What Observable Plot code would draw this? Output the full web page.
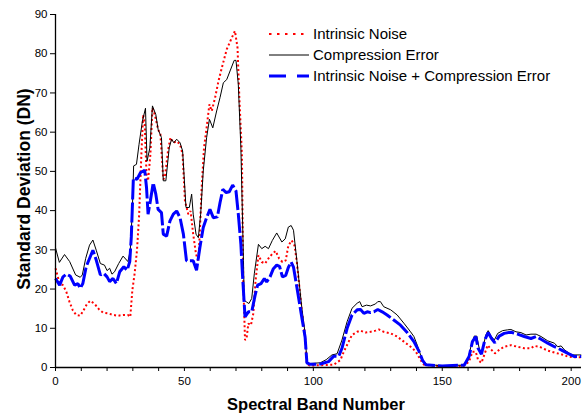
<!DOCTYPE html>
<html>
<head>
<meta charset="utf-8">
<script src="https://cdn.jsdelivr.net/npm/d3@7"></script>
<script src="https://cdn.jsdelivr.net/npm/@observablehq/plot@0.6"></script>
<style>
  html, body { margin: 0; padding: 0; background: #fff; }
  #chart { position: relative; width: 586px; height: 417px; }
  svg { font-family: "Liberation Sans", Arial, sans-serif; }
</style>
</head>
<body>
<div id="chart"></div>
<script>
// ---- data: [spectral band, standard deviation (DN)] ----
const intrinsicNoise = [[0,25.3],[1.6,21.4],[2.9,21],[4.2,19.3],[5.4,16.8],[6.7,14.6],[8,13.4],[9.6,13.2],[10.9,14.6],[12.2,16.2],[13.5,17],[15.2,16.2],[16.9,14.8],[18.4,14],[20.4,13.8],[22.3,13.4],[24.3,13.2],[26.2,13.4],[28.1,13.4],[29,12.9],[29.8,19.7],[30.7,24],[31.6,29.9],[32.4,38.4],[33.3,54.3],[34,64.5],[34.6,62],[35.3,49.3],[35.9,47.6],[36.8,54.3],[37.6,66.2],[38.5,64.5],[39.8,60.7],[40.7,59.4],[41.8,48],[42.4,48.4],[43.7,55.6],[44.6,58.6],[45.7,57.3],[47,57.7],[48.3,56.9],[49.3,54.3],[50.2,42.5],[51.5,39.1],[52.4,39.9],[53.4,34],[54.5,28.9],[55.4,27.2],[56,34.8],[56.7,45.9],[57.6,56],[58.6,61.1],[59.7,67.1],[60.6,65.4],[61.9,68.8],[63.2,73],[64.5,76.4],[66.4,81.1],[68.4,84.1],[69.6,85.8],[70.6,81.5],[71.3,68.8],[72.3,54.3],[72.8,22.2],[73.5,7],[74.1,7.4],[74.8,11.2],[75.8,10.8],[76.7,13.7],[77.6,22.2],[78.7,28.6],[80,26.9],[81.3,26.5],[82.6,27.8],[84.1,29],[85.4,29.7],[86.7,27.8],[88,26.9],[89.3,27.3],[90.3,31.1],[91.6,32.4],[92.7,31.1],[93.6,26.9],[95.5,14.6],[96.8,7.8],[97.5,1],[98.5,0.5],[107.9,0.7],[110.5,1.9],[111.8,4],[113.7,6.6],[115,8.3],[117,9.1],[118.3,9.4],[120.2,8.9],[122.2,9.1],[124.1,9.4],[125.4,9.7],[127.3,9.1],[130,8.7],[132.5,7.9],[135.1,6.6],[137.7,5.3],[139.7,4.1],[141.6,1.9],[142.9,0.7],[150,0.3],[158,0.3],[160.4,1.5],[161.7,4],[163,4],[163.9,1.9],[165.2,1.2],[166.5,3.6],[167.6,5.7],[169.1,4.5],[170.4,3.6],[172.1,4.5],[174,5.3],[176.6,5.7],[179.2,5.3],[181.8,4.9],[184.4,4.9],[185.7,5.5],[187.7,5.3],[190.9,4.3],[193.5,3.8],[196.1,3.4],[198.7,2.8],[201.3,2.6],[203.9,2.6]];

const compressionError = [[0,30.5],[1.5,26.8],[3.5,28.8],[5.5,27],[7.8,23.6],[9.6,23],[10.4,23.6],[11.7,27.8],[13.2,31.2],[14.5,32.5],[15.8,29.9],[17.4,26.5],[19,26.1],[20,24.7],[21,25.3],[21.9,23.8],[22.9,24.4],[24.5,26.5],[26.2,28.4],[28.1,27],[29,29.9],[29.8,40.1],[30.3,51.4],[31.4,51.8],[32.4,56.9],[33.7,62.8],[34.9,66.1],[35.5,52.6],[36.6,56],[37.6,66.7],[38.9,64.5],[39.8,60.7],[41.1,58.6],[41.8,47.6],[42.8,47.6],[44.1,56],[45,58.2],[45.9,57.3],[47,58.2],[48.3,57.3],[49.3,55.2],[50.6,40.8],[51.9,40.8],[52.8,44.2],[53.4,39.1],[54.5,34],[55.4,33.1],[56.3,39.1],[57.3,50.1],[58.6,58.6],[59.7,63.3],[61,61.1],[62.5,65.4],[63.8,68.8],[65.1,72.6],[66.4,73.4],[67.7,75.6],[69.3,78.3],[70,78.3],[70.9,72.2],[71.9,56],[72.9,27.2],[73.2,17.1],[74.1,16.7],[75,16.3],[76.1,17.6],[77.1,23.9],[78.7,31.4],[80,30.3],[81.3,30.9],[82.6,30.3],[84.1,32.4],[85.8,34.3],[87.8,32],[89.1,32.8],[90.3,35.8],[91.4,36.2],[92.3,35],[93.6,27.3],[95.5,15.4],[96.8,8.7],[97.5,1.4],[98.4,1],[102.7,1.2],[105,2],[107.2,3.2],[109.2,3.5],[111.1,7],[113.1,11.7],[115,15.1],[117,16.4],[118,16.8],[118.9,15.5],[120.6,15.9],[122.2,15.7],[124.1,16.2],[125,16.8],[126,16.8],[127.3,15.5],[130,14.7],[132.5,13.4],[135.1,11.3],[137.7,9.1],[139,7.9],[140.3,5.7],[141.6,3.2],[142.9,1.5],[144.2,0.7],[150,0.5],[157.8,0.6],[159.8,1.5],[161.1,5.3],[162.4,8],[163.4,8],[164.7,3.6],[165.6,4.5],[166.9,8.3],[167.8,9.4],[168.9,8],[170.2,7],[171.5,8.7],[173.4,9.4],[175.3,9.6],[176.6,9.7],[178.6,9.1],[180.5,8.9],[182.5,8.3],[184.4,8.5],[186.4,8.5],[188.3,7.9],[190.9,6.8],[193.5,6.2],[194.8,5.3],[196.1,5.5],[197.4,4.5],[199.3,3.6],[200.6,3.2],[203.9,3.2]];

const combinedError = [[0,22.7],[1.6,21],[2.9,23.1],[4.2,23.8],[5.7,23.3],[7.4,21],[8.7,21.4],[9.6,20.2],[10.6,21.4],[11.9,25.7],[13.2,27.8],[14.5,29.9],[15.8,27.4],[17.4,23.6],[18.7,24],[20,23.1],[21,21.9],[22.3,22.7],[23.6,21.4],[24.9,24.4],[26.5,25.7],[27.8,24.8],[28.8,27],[29.4,33.3],[30.2,48.3],[31.6,48],[33,49.7],[34.6,50.3],[35.3,45.9],[35.9,39.1],[36.8,42.5],[37.9,47.1],[38.9,44.2],[39.8,40.3],[41.1,39.5],[41.8,34],[43.1,33.5],[44.4,37.4],[45.7,39.1],[47,39.9],[48.3,38.2],[49.6,34],[50.8,27.2],[53.4,27.2],[54.7,24.8],[56,30.6],[57.3,35.7],[58.6,38.2],[59.9,40.3],[61.2,38.2],[62.8,38.4],[63.8,42],[64.9,45.4],[66.2,44.6],[67.4,44.8],[68.7,46.5],[70,45],[70.9,39.1],[71.9,31.4],[72.5,23.9],[73.5,12.9],[74.8,14.2],[76.1,14.2],[77.4,18.4],[78.4,21],[79.7,21.4],[81,22.7],[81.9,21.8],[83.2,23.1],[84.5,25.2],[85.8,26.1],[86.9,25.8],[88,23.1],[89.3,23.5],[90.3,25.5],[91.4,26.9],[92.3,25.6],[93.6,20.5],[95.5,12.9],[96.8,7.8],[97.5,1.2],[98.8,0.8],[102.7,0.9],[105.9,1.5],[107.9,2.9],[109.8,2.8],[111.1,4.9],[113.1,10],[115,13.4],[117,14.7],[118.3,14.8],[119.6,13.8],[120.9,14.2],[122.2,14],[123.5,14.2],[125,14.8],[126.7,14.2],[128.6,13.4],[131.2,12.1],[133.8,10.8],[136.4,8.9],[139,6.6],[141,4.1],[142.3,1.9],[143.6,0.7],[150,0.4],[158.5,0.6],[160.4,2.8],[161.7,6.6],[163,7.9],[163.9,4.9],[165.2,3.4],[166.5,7],[167.8,8.9],[169.1,7.4],[170.4,6.3],[172.1,8],[174,8.7],[176.6,9],[179.2,8.5],[181.8,7.9],[184.4,7.4],[186.4,7.9],[188.3,7.2],[190.9,6.2],[193.5,5.3],[196.1,4.5],[198.7,3.6],[201.3,2.8],[203.9,2.8]];

const seriesNames = ["Intrinsic Noise", "Compression Error", "Intrinsic Noise + Compression Error"];
const xTicks = d3.range(0, 201, 10);
const xTickLabels = [0, 50, 100, 150, 200];
const yTicks = d3.range(0, 91, 10);
const xTitle = "Spectral Band Number";
const yTitle = "Standard Deviation (DN)";

// ---- chart ----
const styles = [
  {stroke: "#ff0000", strokeWidth: 2, strokeDasharray: "2,2.5"},
  {stroke: "#000000", strokeWidth: 1, strokeDasharray: null},
  {stroke: "#0000ff", strokeWidth: 3, strokeDasharray: "20,3"}
];
const seriesData = [intrinsicNoise, compressionError, combinedError];

const chart = Plot.plot({
  width: 586,
  height: 417,
  marginTop: 14,
  marginBottom: 50,
  marginLeft: 55,
  marginRight: 5,
  style: {fontFamily: "'Liberation Sans', Arial, sans-serif", fontSize: "11.5px", color: "#000", background: "#fff"},
  x: {domain: [0, 204]},
  y: {domain: [0, 90]},
  marks: [
    Plot.axisX({ticks: xTicks, tickSize: 4, tickPadding: 5, stroke: "#000", strokeOpacity: 1,
      tickFormat: d => xTickLabels.includes(d) ? String(d) : "", label: null}),
    Plot.axisY({ticks: yTicks, tickSize: 5, tickPadding: 3, stroke: "#000", strokeOpacity: 1, label: null}),
    ...seriesData.map((data, i) => Plot.line(data, {
      x: d => d[0], y: d => d[1],
      stroke: styles[i].stroke, strokeWidth: styles[i].strokeWidth,
      strokeDasharray: styles[i].strokeDasharray,
      strokeLinecap: "butt", strokeLinejoin: "miter"
    })),
    Plot.ruleX([0], {stroke: "#000", strokeWidth: 1.3}),
    Plot.ruleY([0], {stroke: "#000", strokeWidth: 1.3})
  ]
});
document.getElementById("chart").appendChild(chart);

// ---- axis titles and legend ----
const svg = d3.select(chart);
svg.append("text")
  .attr("x", 316).attr("y", 410)
  .attr("text-anchor", "middle")
  .attr("font-size", 16.5).attr("font-weight", "bold").attr("fill", "#000")
  .text(xTitle);
svg.append("text")
  .attr("transform", "translate(30,189) rotate(-90)")
  .attr("text-anchor", "middle")
  .attr("font-size", 17.5).attr("font-weight", "bold").attr("fill", "#000")
  .text(yTitle);

const legendRows = [34, 55, 76];
const legendDash = ["2.5,5.5", null, "17,11"];
const lg = svg.append("g").attr("text-anchor", "start");
seriesNames.forEach((name, i) => {
  lg.append("line")
    .attr("x1", 269).attr("x2", 309)
    .attr("y1", legendRows[i]).attr("y2", legendRows[i])
    .attr("stroke", styles[i].stroke)
    .attr("stroke-width", styles[i].strokeWidth)
    .attr("stroke-dasharray", legendDash[i]);
  lg.append("text")
    .attr("x", 313).attr("y", legendRows[i])
    .attr("dy", "0.35em")
    .attr("text-anchor", "start")
    .attr("font-size", 15).attr("fill", "#000")
    .text(name);
});
</script>
</body>
</html>
